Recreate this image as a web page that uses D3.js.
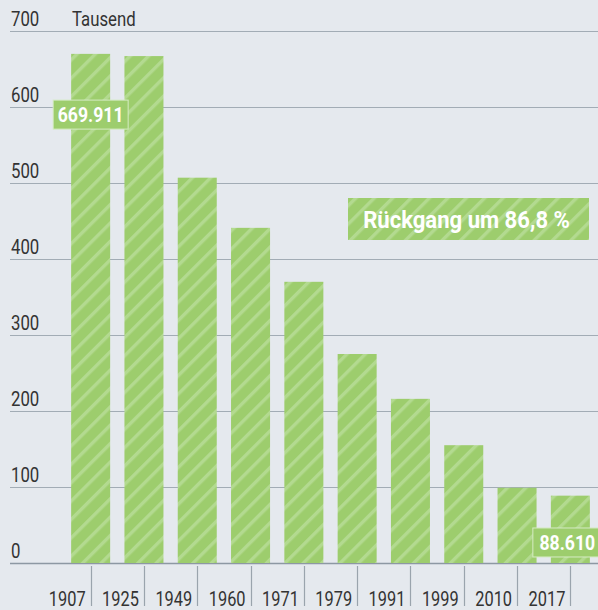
<!DOCTYPE html>
<html>
<head>
<meta charset="utf-8">
<script src="https://cdn.jsdelivr.net/npm/d3@7"></script>
<style>
  body { margin: 0; background: #e5e9ee; }
  svg { display: block; }
  text { font-family: Roboto, "Noto Sans", sans-serif; }
</style>
</head>
<body>
<div id="chart"></div>
<script>
// data (in thousand)
var years = ["1907", "1925", "1949", "1960", "1971", "1979", "1991", "1999", "2010", "2017"];
var values = [669.911, 667, 507, 441, 370, 275, 216, 155, 99, 88.61];
var yTicks = [0, 100, 200, 300, 400, 500, 600, 700];
var valueLabels = [{ year: "1907", text: "669.911", at: 590, shift: 0 },
                   { year: "2017", text: "88.610", at: 27, shift: -3 }];
var noteText = "Rückgang um 86,8 %";

var width = 598, height = 610;
var barGreen = "#9dcd6d", stripe = "#b3da90";

var svg = d3.select("#chart").append("svg")
  .attr("width", width)
  .attr("height", height);

// squeeze text horizontally to mimic a condensed face
function condense(sel, f) {
  sel.each(function() {
    var len = this.getComputedTextLength();
    d3.select(this)
      .attr("textLength", len * f)
      .attr("lengthAdjust", "spacingAndGlyphs");
  });
}

// hatch pattern
var defs = svg.append("defs");
var pat = defs.append("pattern")
  .attr("id", "hatch")
  .attr("patternUnits", "userSpaceOnUse")
  .attr("width", 13)
  .attr("height", 13)
  .attr("patternTransform", "rotate(45)");
pat.append("rect").attr("width", 13).attr("height", 13).attr("fill", barGreen);
pat.append("rect").attr("x", 0).attr("width", 3.4).attr("height", 13).attr("fill", stripe);

var x = d3.scaleBand()
  .domain(years)
  .range([64, 597])
  .paddingInner(0.268)
  .paddingOuter(0.134);

var y = d3.scaleLinear()
  .domain([0, 700])
  .range([563, 31]);

// gridlines
svg.append("g").selectAll("line")
  .data(yTicks)
  .enter().append("line")
  .attr("x1", 10)
  .attr("x2", width)
  .attr("y1", d => Math.round(y(d)) + 0.5)
  .attr("y2", d => Math.round(y(d)) + 0.5)
  .attr("stroke", d => d == 0 ? "#8d98a3" : "#a2acb5")
  .attr("stroke-width", d => d == 0 ? 1.5 : 1.2);

var yLabels = svg.append("g").selectAll("text")
  .data(yTicks)
  .enter().append("text")
  .attr("x", 11)
  .attr("y", d => y(d) - 5)
  .attr("fill", "#333")
  .style("font-size", "19.5px")
  .text(d => d);
condense(yLabels, 0.86);

var unit = svg.append("text")
  .attr("x", 72)
  .attr("y", y(700) - 5)
  .attr("fill", "#333")
  .style("font-size", "19.5px")
  .text("Tausend");
condense(unit, 0.86);

// bars
svg.append("g").selectAll("rect")
  .data(values)
  .enter().append("rect")
  .attr("x", (d, i) => x(years[i]))
  .attr("y", d => y(d))
  .attr("width", x.bandwidth())
  .attr("height", d => y(0) - y(d))
  .attr("fill", "url(#hatch)");

// x axis ticks + labels
var xAxisG = svg.append("g");
years.forEach(function(yr) {
  var cx = x(yr) + x.bandwidth() / 2;
  xAxisG.append("line")
    .attr("x1", Math.round(cx) + 0.5)
    .attr("x2", Math.round(cx) + 0.5)
    .attr("y1", 566)
    .attr("y2", 606)
    .attr("stroke", "#9aa4ad")
    .attr("stroke-width", 1.2);
  var t = xAxisG.append("text")
    .attr("x", cx - 5)
    .attr("y", 606)
    .attr("text-anchor", "end")
    .attr("fill", "#333")
    .style("font-size", "19.5px")
    .text(yr);
  condense(t, 0.84);
});

// value boxes
valueLabels.forEach(function(l) {
  var cx = x(l.year) + x.bandwidth() / 2;
  var cy = y(l.at);
  svg.append("rect")
    .attr("x", cx - 37.5)
    .attr("y", cy - 14.5)
    .attr("width", 75)
    .attr("height", 29)
    .attr("fill", barGreen)
    .attr("stroke", "#d6ebc4")
    .attr("stroke-width", 1);
  var t = svg.append("text")
    .attr("x", cx + l.shift)
    .attr("y", cy + 7.5)
    .attr("text-anchor", "middle")
    .attr("fill", "#fff")
    .style("font-size", "21px")
    .style("font-weight", "bold")
    .text(l.text);
  condense(t, 0.84);
});

// note box
svg.append("rect")
  .attr("x", 348)
  .attr("y", 198)
  .attr("width", 241)
  .attr("height", 42)
  .attr("fill", "url(#hatch)");
var note = svg.append("text")
  .attr("x", 348 + 241 / 2 - 2)
  .attr("y", 227.5)
  .attr("text-anchor", "middle")
  .attr("fill", "#fff")
  .style("font-size", "23px")
  .style("font-weight", "bold")
  .text(noteText);
condense(note, 0.96);
</script>
</body>
</html>
